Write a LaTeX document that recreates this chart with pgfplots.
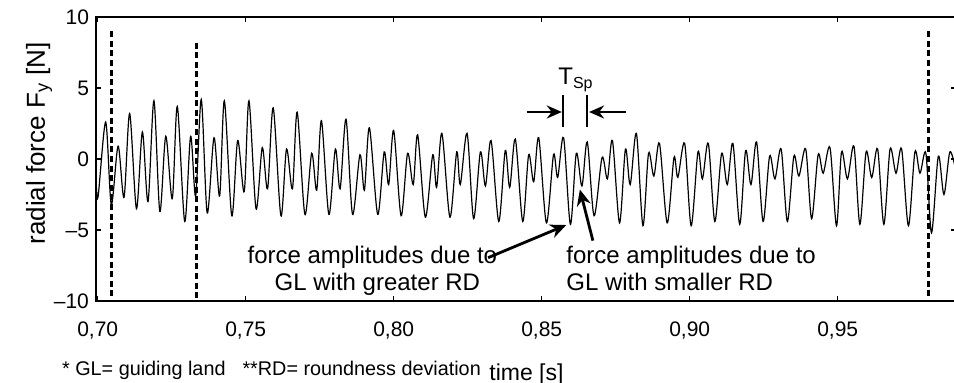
\documentclass[border=0pt]{standalone}
\usepackage{pgfplots}
\pgfplotsset{compat=1.18}
\usepackage{fontspec}
\setmainfont{Liberation Sans}
\usetikzlibrary{arrows.meta}
\begin{document}
\begin{tikzpicture}
\path[use as bounding box] (0,0) rectangle (477pt,191.5pt);
\begin{axis}[
  at={(48pt,41pt)}, anchor=south west,
  scale only axis, width=430pt, height=142pt,
  xmin=0.69943, xmax=0.98997, ymin=-10, ymax=10,
  xtick={0.70,0.75,0.80,0.85,0.90,0.95},
  xticklabels={{0,70},{0,75},{0,80},{0,85},{0,90},{0,95}},
  ytick={-10,-5,0,5,10},
  yticklabels={--10,--5,0,5,10},
  tick align=inside, major tick length=2.5pt,
  tick style={black, line width=0.6pt},
  axis line style={line width=0.7pt},
  ticklabel style={font=\fontsize{10.5}{12}\selectfont},
  xticklabel style={yshift=-7pt},
  clip=false,
]
\addplot[black, line width=0.6pt, smooth, tension=0.5] coordinates {
(0.6994,-1.1) (0.7001,-2.7) (0.7027,2.6) (0.7046,-3.2) (0.7069,0.9) (0.7089,-2.7)
(0.7108,3.2) (0.7131,-3.5) (0.7151,1.9) (0.7170,-3.0) (0.7190,4.1) (0.7210,-3.7)
(0.7230,1.6) (0.7252,-2.8) (0.7269,3.7) (0.7294,-4.4) (0.7314,1.6) (0.7331,-2.6)
(0.7350,4.2) (0.7370,-3.8) (0.7393,1.5) (0.7412,-2.6) (0.7428,4.1) (0.7453,-4.0)
(0.7473,1.3) (0.7495,-2.3) (0.7511,4.1) (0.7535,-3.5) (0.7556,0.8) (0.7574,-2.1)
(0.7593,3.6) (0.7619,-4.0) (0.7638,0.7) (0.7658,-2.1) (0.7674,3.3) (0.7700,-3.9)
(0.7723,0.4) (0.7740,-2.2) (0.7756,2.7) (0.7781,-3.9) (0.7803,0.7) (0.7819,-2.1)
(0.7839,2.8) (0.7861,-3.9) (0.7886,0.3) (0.7901,-2.2) (0.7918,2.2) (0.7946,-3.9)
(0.7968,0.5) (0.7983,-1.8) (0.8000,2.0) (0.8025,-4.0) (0.8047,0.4) (0.8066,-1.8)
(0.8081,1.7) (0.8107,-4.1) (0.8132,0.3) (0.8145,-2.0) (0.8163,1.8) (0.8190,-4.1)
(0.8213,0.5) (0.8225,-1.8) (0.8248,1.8) (0.8270,-4.2) (0.8293,0.5) (0.8310,-1.9)
(0.8329,1.3) (0.8355,-4.4) (0.8377,0.6) (0.8392,-2.0) (0.8411,1.4) (0.8436,-4.4)
(0.8456,0.3) (0.8473,-1.6) (0.8490,1.5) (0.8516,-4.5) (0.8540,0.3) (0.8554,-1.3)
(0.8574,1.5) (0.8597,-4.6) (0.8617,0.4) (0.8636,-1.9) (0.8654,1.2) (0.8677,-4.0)
(0.8704,0.1) (0.8722,-1.4) (0.8739,1.3) (0.8763,-4.5) (0.8783,0.7) (0.8799,-1.8)
(0.8820,1.8) (0.8842,-4.7) (0.8861,0.4) (0.8879,-1.2) (0.8898,1.1) (0.8924,-4.5)
(0.8947,0.1) (0.8960,-1.3) (0.8983,1.1) (0.9005,-4.7) (0.9028,0.5) (0.9043,-1.4)
(0.9063,1.1) (0.9085,-4.4) (0.9108,0.4) (0.9127,-1.8) (0.9146,1.1) (0.9169,-4.6)
(0.9189,0.6) (0.9207,-1.8) (0.9226,1.2) (0.9248,-4.4) (0.9270,0.2) (0.9288,-1.4)
(0.9309,0.7) (0.9330,-4.4) (0.9352,0.2) (0.9369,-1.2) (0.9392,0.7) (0.9412,-4.2)
(0.9434,0.3) (0.9451,-1.0) (0.9474,0.8) (0.9496,-4.7) (0.9513,0.5) (0.9533,-1.4)
(0.9555,0.9) (0.9575,-4.6) (0.9596,0.5) (0.9615,-1.3) (0.9635,0.7) (0.9656,-4.6)
(0.9677,0.7) (0.9697,-1.0) (0.9716,0.7) (0.9739,-4.7) (0.9761,0.5) (0.9778,-1.0)
(0.9798,0.4) (0.9817,-5.2) (0.9840,0.2) (0.9859,-2.5) (0.9879,0.5) (0.9899,-0.8)
};
% dashed markers
\addplot[black, line width=1.5pt, dash pattern=on 3pt off 1.8pt] coordinates {(0.7047,9.0) (0.7047,-10)};
\addplot[black, line width=1.5pt, dash pattern=on 3pt off 1.8pt] coordinates {(0.73335,8.2) (0.73335,-10)};
\addplot[black, line width=1.5pt, dash pattern=on 3pt off 1.8pt] coordinates {(0.9807,9.0) (0.9807,-10)};
% T_Sp
\draw[black, line width=1pt] (axis cs:0.8573,4.48) -- (axis cs:0.8573,2.24);
\draw[black, line width=1pt] (axis cs:0.8654,4.48) -- (axis cs:0.8654,2.24);
\draw[-{Stealth[length=7.5pt,width=6.5pt]}, line width=1.4pt] (axis cs:0.8449,3.31) -- (axis cs:0.8568,3.31);
\draw[-{Stealth[length=7.5pt,width=6.5pt]}, line width=1.4pt] (axis cs:0.8785,3.31) -- (axis cs:0.8660,3.31);
\node[anchor=base, inner sep=0pt, font=\fontsize{12}{14}\selectfont] at (axis cs:0.8616,5.24) {T\textsubscript{Sp}};
% annotation arrows
\draw[-{Stealth[length=8pt,width=7pt]}, line width=1.4pt] (axis cs:0.8319,-6.95) -- (axis cs:0.8583,-4.65);
\draw[-{Stealth[length=8pt,width=7pt]}, line width=1.4pt] (axis cs:0.8673,-5.75) -- (axis cs:0.8629,-2.15);
% annotation texts
\node[anchor=base, inner sep=0pt, font=\fontsize{12}{14}\selectfont] at (axis cs:0.7928,-7.34) {force amplitudes due to};
\node[anchor=base, inner sep=0pt, font=\fontsize{12}{14}\selectfont] at (axis cs:0.7945,-9.28) {GL with greater RD};
\node[anchor=base west, inner sep=0pt, font=\fontsize{12}{14}\selectfont] at (axis cs:0.8582,-7.34) {force amplitudes due to};
\node[anchor=base west, inner sep=0pt, font=\fontsize{12}{14}\selectfont] at (axis cs:0.8582,-9.28) {GL with smaller RD};
% labels
\node[rotate=90, inner sep=0pt, font=\fontsize{13}{15}\selectfont] at (axis cs:0.6802,1.1) {radial force F\textsubscript{y} [N]};
\node[anchor=base west, inner sep=0pt, font=\fontsize{9.9}{11}\selectfont] at (axis cs:0.68784,-15.22) {* GL= guiding land\hspace{8.5pt}**RD= roundness deviation};
\node[anchor=base west, inner sep=0pt, font=\fontsize{11.5}{13}\selectfont] at (axis cs:0.8322,-15.6) {time [s]};
\end{axis}
\end{tikzpicture}
\end{document}
